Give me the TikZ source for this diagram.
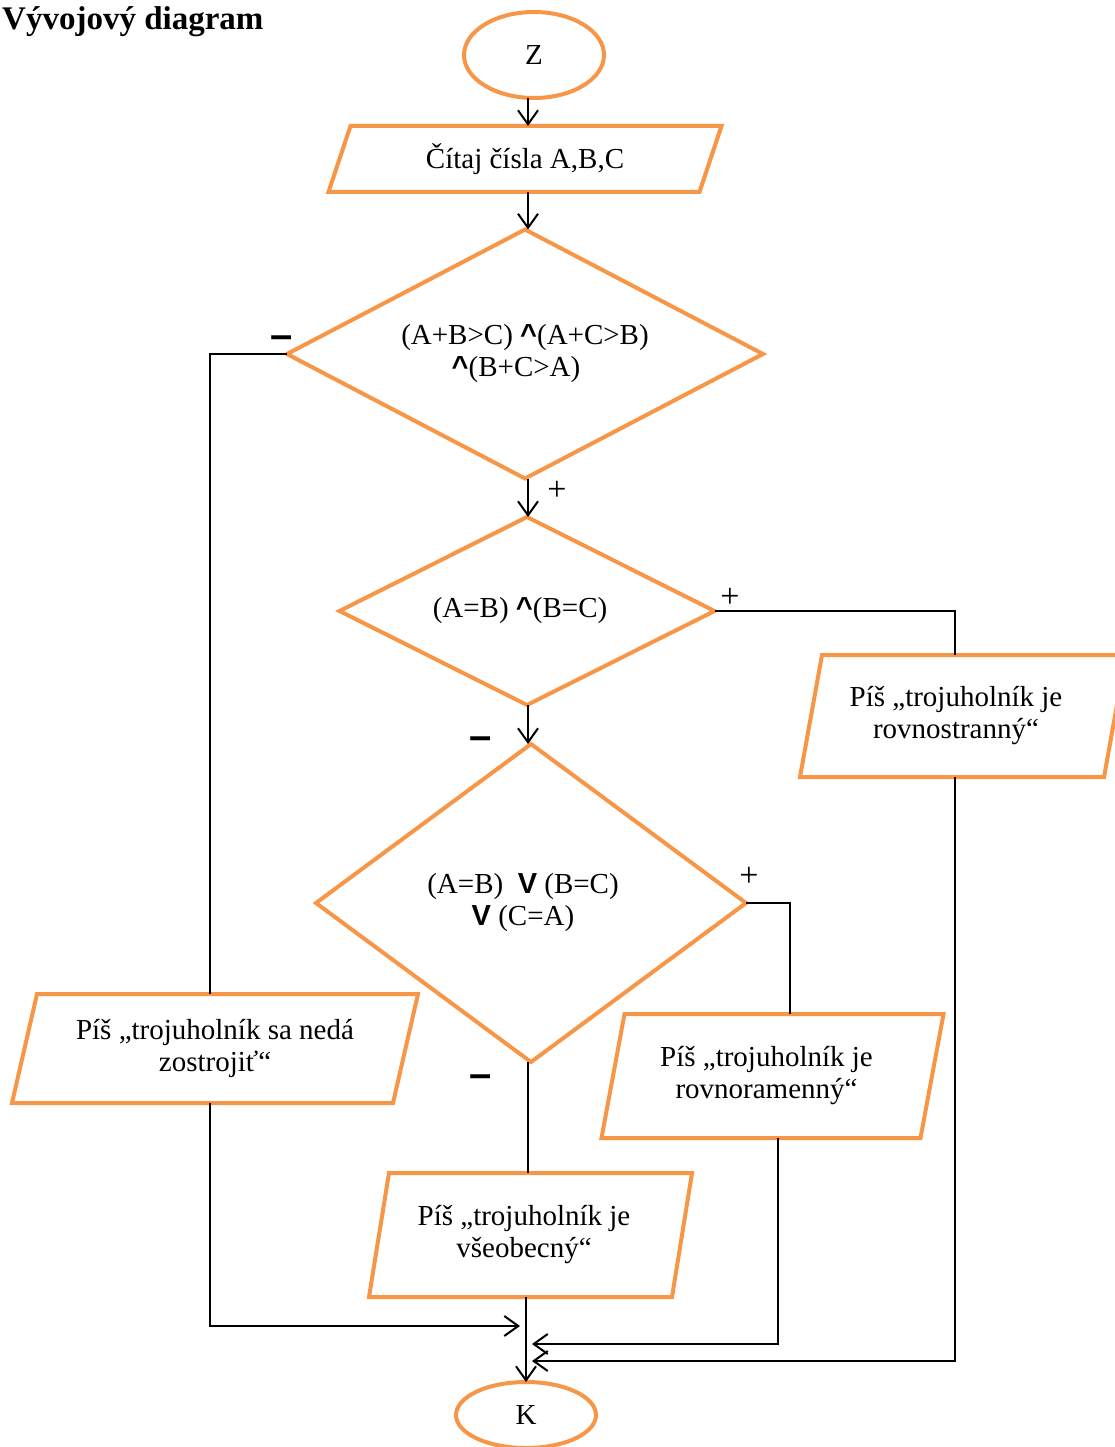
\documentclass[tikz,border=0pt]{standalone}
\usepackage{fontspec}
\setmainfont{Liberation Serif}
\newfontfamily\symf{Liberation Sans}
\usetikzlibrary{shapes.geometric,arrows.meta}
\definecolor{orng}{RGB}{247,150,70}
\newcommand{\andsym}{{\symf\bfseries\textasciicircum}}
\newcommand{\orsym}{{\symf\bfseries V}}
\newcommand{\drawpar}[2]{\draw[obox] ([xshift=-#2]#1.south west) -- ([xshift=-#2]#1.south east) -- ([xshift=#2]#1.north east) -- ([xshift=#2]#1.north west) -- cycle;}
\begin{document}
\begin{tikzpicture}[x=1pt,y=-1pt,
  obox/.style={draw=orng,line width=4pt,line join=miter},
  shp/.style={obox,inner sep=0pt,outer sep=0pt,align=center,font=\fontsize{29}{32}\selectfont},
  term/.style={shp,ellipse},
  dec/.style={shp,diamond},
  io/.style={inner sep=0pt,outer sep=0pt,align=center,font=\fontsize{29}{32}\selectfont},
  ln/.style={draw=black,line width=2pt},
  arr/.style={ln,-{Straight Barb[length=14pt,width=20pt]}},
  plus/.style={font=\fontsize{34}{34}\selectfont,inner sep=0pt},
  minus/.style={font=\symf\bfseries\fontsize{40}{40}\selectfont,inner sep=0pt}
]
\useasboundingbox (0,0) rectangle (1114,1447);

\node[anchor=base west,inner sep=0pt,font=\bfseries\fontsize{33}{33}\selectfont] (title) at (2,30) {Vývojový diagram};

\node[term,minimum width=140pt,minimum height=86pt] (Z) at (534,55) {Z};
\node[io,minimum width=371pt,minimum height=66pt] (read) at (525,159) {Čítaj čísla A,B,C};
\drawpar{read}{11pt}
\node[dec,shape aspect=1.91,minimum width=476pt,minimum height=249pt] (d1) at (525,354) {(A+B>C) \andsym(A+C>B)\\\andsym(B+C>A)\hspace*{18pt}};
\node[dec,shape aspect=2,minimum width=375pt,minimum height=188pt] (d2) at (527,611) {(A=B) \andsym(B=C)\hspace*{14pt}};
\node[dec,shape aspect=1.35,minimum width=430pt,minimum height=318pt] (d3) at (531,903) {(A=B)\ \ \orsym\ (B=C)\hspace*{16pt}\\\orsym\ (C=A)\hspace*{16pt}};
\node[io,minimum width=381pt,minimum height=109pt] (nosol) at (215,1048.5) {Píš „trojuholník sa nedá\\zostrojiť“};
\drawpar{nosol}{12.5pt}
\node[io,minimum width=304pt,minimum height=122pt] (equi) at (963,716) {Píš „trojuholník je\hspace*{14pt}\\rovnostranný“\hspace*{14pt}};
\drawpar{equi}{11pt}
\node[io,minimum width=319pt,minimum height=124pt] (iso) at (772.5,1076) {Píš „trojuholník je\hspace*{12pt}\\rovnoramenný“\hspace*{12pt}};
\drawpar{iso}{11.5pt}
\node[io,minimum width=303pt,minimum height=124pt] (gen) at (530.5,1235) {Píš „trojuholník je\hspace*{13pt}\\všeobecný“\hspace*{13pt}};
\drawpar{gen}{10pt}
\node[term,minimum width=140pt,minimum height=66pt] (K) at (526,1415) {K};

\node[plus] (p1) at (557,491) {+};
\node[plus] (p2) at (730,598) {+};
\node[plus] (p3) at (749,877) {+};
\node[minus] (m1) at (282,342) {–};
\node[minus] (m2) at (481,743) {–};
\node[minus] (m3) at (481,1081) {–};

\coordinate (spine) at (528,0);
\coordinate (spineb) at (526,0);
\coordinate (eqx) at (955,0);
\coordinate (isox) at (790,0);
\coordinate (isoox) at (778,0);
\coordinate (nsx) at (210,0);
\coordinate (in1) at (520,1326);
\coordinate (in2) at (532,1344);
\coordinate (in3) at (532,1361);

\draw[arr] (Z.south -| spine) -- (read.north -| spine);
\draw[arr] (read.south -| spine) -- (d1.north -| spine);
\draw[arr] (d1.south -| spine) -- (d2.north -| spine);
\draw[arr] (d2.south -| spine) -- (d3.north -| spine);
\draw[ln] (d2.east) -| (equi.north -| eqx);
\draw[ln] (d3.east) -| (iso.north -| isox);
\draw[ln] (d3.south -| spine) -- (gen.north -| spine);
\draw[ln] (d1.west) -| (nosol.north -| nsx);
\draw[arr] (nosol.south -| nsx) |- (in1);
\draw[arr] (iso.south -| isoox) |- (in2);
\draw[arr] (equi.south -| eqx) |- (in3);
\draw[arr] (gen.south -| spineb) -- (K.north -| spineb);
\end{tikzpicture}
\end{document}
